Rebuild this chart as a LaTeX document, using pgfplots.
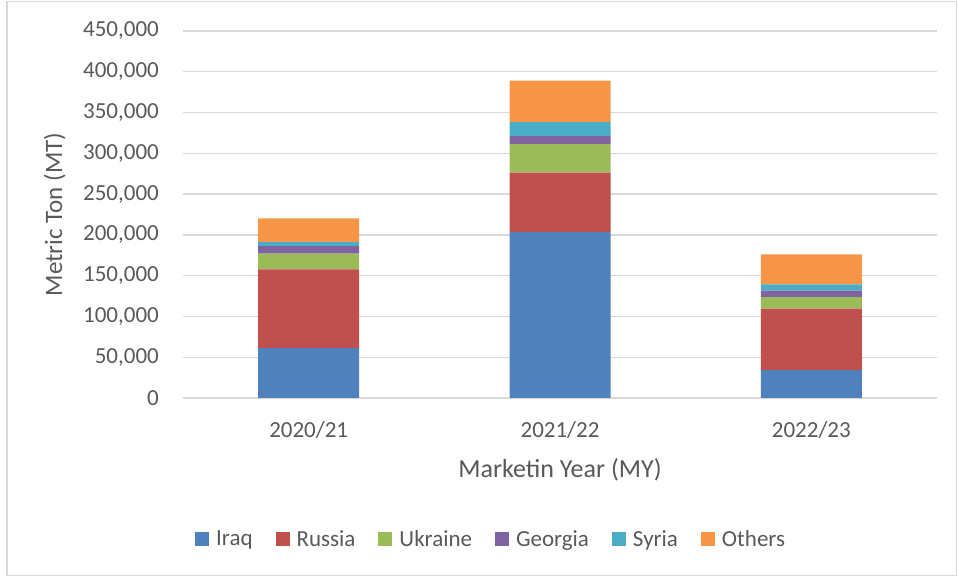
\documentclass[border=0pt]{standalone}
\usepackage{pgfplots}
\pgfplotsset{compat=1.18}
\usepackage{fontspec}
\setmainfont{Carlito}

\definecolor{iraq}{HTML}{4F81BD}
\definecolor{russia}{HTML}{C0504D}
\definecolor{ukraine}{HTML}{9BBB59}
\definecolor{georgia}{HTML}{8064A2}
\definecolor{syria}{HTML}{4BACC6}
\definecolor{others}{HTML}{F79646}
\definecolor{gridgray}{HTML}{D9D9D9}
\definecolor{textgray}{HTML}{595959}

% x: 0 = 2020/21, 1 = 2021/22, 2 = 2022/23
\pgfplotstableread{
x iraq   russia ukraine georgia syria others
0 61300  96400  19300   9300    4900  29000
1 203400 72800  35100   9800    17100 50800
2 34300  75300  14200   7800    7700  36800
}\imports

\newcommand{\sq}[1]{\fill[#1] (0pt,-7pt) rectangle (14pt,7pt);}

\begin{document}
\begin{tikzpicture}
\useasboundingbox (0,0) rectangle (958pt,577pt);
\draw[gridgray, line width=1.2pt] (7pt,1.5pt) rectangle (956.5pt,575.5pt);
\begin{axis}[
  at={(183pt,179pt)}, anchor=south west,
  scale only axis, width=754pt, height=367pt,
  ybar stacked, bar width=101pt,
  xmin=-0.5, xmax=2.5, ymin=0, ymax=450000,
  xtick={0,1,2}, xticklabels={2020/21,2021/22,2022/23},
  ytick={0,50000,...,450000},
  scaled y ticks=false,
  /pgf/number format/fixed,
  /pgf/number format/1000 sep={,},
  /pgf/number format/assume math mode=true,
  ymajorgrids, grid style={gridgray, line width=1.3pt},
  axis line style={draw=none}, major tick length=0pt,
  tick label style={font=\fontsize{23}{27}\selectfont, text=textgray},
  yticklabel style={anchor=east, inner sep=0pt, xshift=-24pt},
  xticklabel style={anchor=center, inner sep=0pt, yshift=-32pt},
  xlabel={Marketin Year (MY)},
  ylabel={Metric Ton (MT)},
  every axis x label/.append style={at={(axis description cs:0.5,-0.196)}, anchor=center,
    font=\fontsize{26}{30}\selectfont, text=textgray},
  every axis y label/.append style={at={(axis description cs:-0.17,0.5)}, anchor=center, rotate=0,
    font=\fontsize{25}{30}\selectfont, text=textgray},
  legend columns=-1,
  legend style={at={(axis description cs:0.0159,-0.384)}, anchor=west, draw=none,
    fill=none, inner sep=0pt, font=\fontsize{23}{27}\selectfont, text=textgray,
    /tikz/every odd column/.append style={column sep=5pt},
    /tikz/every even column/.append style={column sep=21pt}},
  legend cell align=left,
]
\addplot[fill=iraq, draw=none, legend image code/.code={\sq{iraq}}] table[x=x, y=iraq] {\imports};
\addplot[fill=russia, draw=none, legend image code/.code={\sq{russia}}] table[x=x, y=russia] {\imports};
\addplot[fill=ukraine, draw=none, legend image code/.code={\sq{ukraine}}] table[x=x, y=ukraine] {\imports};
\addplot[fill=georgia, draw=none, legend image code/.code={\sq{georgia}}] table[x=x, y=georgia] {\imports};
\addplot[fill=syria, draw=none, legend image code/.code={\sq{syria}}] table[x=x, y=syria] {\imports};
\addplot[fill=others, draw=none, legend image code/.code={\sq{others}}] table[x=x, y=others] {\imports};
\legend{Iraq, Russia, Ukraine, Georgia, Syria, Others}
\end{axis}
\end{tikzpicture}
\end{document}
